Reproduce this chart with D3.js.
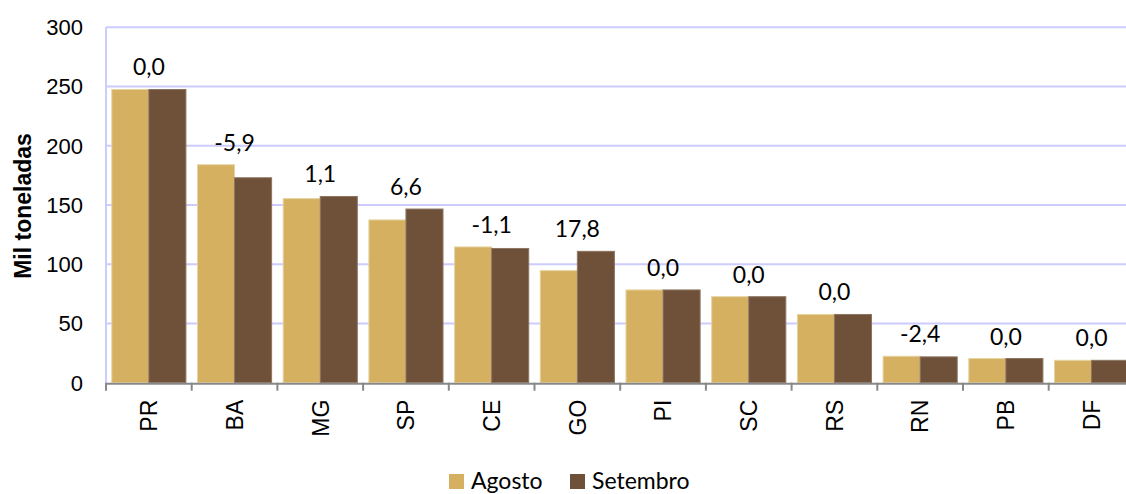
<!DOCTYPE html>
<html>
<head>
<meta charset="utf-8">
<script src="https://cdn.jsdelivr.net/npm/d3@7"></script>
<style>
  body { margin: 0; background: #fff; overflow: hidden; }
  svg { display: block; }
</style>
</head>
<body>
<script>
var estados = ["PR", "BA", "MG", "SP", "CE", "GO", "PI", "SC", "RS", "RN", "PB", "DF"];
var agosto = [247.5, 184, 155.4, 137.4, 114.6, 94.6, 78.3, 72.6, 57.6, 22.3, 20.4, 18.9];
var setembro = [247.5, 173, 157.2, 146.6, 113.3, 110.9, 78.3, 72.6, 57.6, 21.8, 20.4, 18.9];
var variacao = [0.0, -5.9, 1.1, 6.6, -1.1, 17.8, 0.0, 0.0, 0.0, -2.4, 0.0, 0.0];
var series = ["Agosto", "Setembro"];
var yTicks = [0, 50, 100, 150, 200, 250, 300];

var width = 1126;
var height = 494;
var marge = {top: 27.3, left: 106, bottom: 111.3};
var step = 85.7;

var cores = {Agosto: "#D4B060", Setembro: "#6F513A"};
var bordas = {Agosto: "#E6D3A2", Setembro: "#8C7663"};

var svg = d3.select("body")
    .append("svg")
    .attr("width", width)
    .attr("height", height);

var dados = estados.map(function(e, i){
    return {estado: e, Agosto: agosto[i], Setembro: setembro[i], variacao: variacao[i]};
});

var x = d3.scaleBand()
    .domain(estados)
    .range([marge.left, marge.left + step * estados.length])
    .paddingInner(0.135)
    .paddingOuter(0.0675);

var x1 = d3.scaleBand()
    .domain(series)
    .range([0, x.bandwidth()]);

var y = d3.scaleLinear()
    .domain([0, 300])
    .range([height - marge.bottom, marge.top]);

// grade horizontal
svg.append("g")
    .selectAll("line")
    .data(yTicks.filter(function(t){ return t > 0; }))
    .enter()
    .append("line")
    .attr("x1", marge.left)
    .attr("x2", width)
    .attr("y1", function(d){ return y(d); })
    .attr("y2", function(d){ return y(d); })
    .attr("stroke", "#CCCCFF")
    .attr("stroke-width", 2);

// eixo vertical
svg.append("line")
    .attr("x1", marge.left)
    .attr("x2", marge.left)
    .attr("y1", y(300))
    .attr("y2", y(0))
    .attr("stroke", "#CCCCFF")
    .attr("stroke-width", 2);

svg.append("g")
    .selectAll("text")
    .data(yTicks)
    .enter()
    .append("text")
    .attr("x", 83)
    .attr("y", function(d){ return y(d); })
    .attr("dy", "0.36em")
    .attr("text-anchor", "end")
    .style("font-family", "'Liberation Sans', Arial, sans-serif")
    .attr("font-size", 22)
    .attr("fill", "#000")
    .text(function(d){ return d; });

svg.append("text")
    .attr("transform", "translate(31,206) rotate(-90)")
    .attr("text-anchor", "middle")
    .style("font-family", "'Liberation Sans', Arial, sans-serif")
    .attr("font-weight", "bold")
    .attr("font-size", 23)
    .text("Mil toneladas");

// barras
var grupos = svg.append("g")
    .selectAll("g")
    .data(dados)
    .enter()
    .append("g")
    .attr("transform", function(d){ return "translate(" + x(d.estado) + ",0)"; });

grupos.selectAll("rect")
    .data(function(d){
        return series.map(function(s){ return {serie: s, valor: d[s]}; });
    })
    .enter()
    .append("rect")
    .attr("x", function(d){ return x1(d.serie); })
    .attr("y", function(d){ return y(d.valor); })
    .attr("width", x1.bandwidth())
    .attr("height", function(d){ return y(0) - y(d.valor); })
    .attr("fill", function(d){ return cores[d.serie]; })
    .attr("stroke", function(d){ return bordas[d.serie]; })
    .attr("stroke-width", 1);

// rótulos de variação
grupos.append("text")
    .attr("x", x.bandwidth() / 2)
    .attr("y", function(d){ return y(Math.max(d.Agosto, d.Setembro)) - 14; })
    .attr("text-anchor", "middle")
    .style("font-family", "Lato, Carlito, sans-serif")
    .attr("font-size", 23)
    .attr("fill", "#000")
    .text(function(d){ return d.variacao.toFixed(1).replace(".", ","); });

// eixo horizontal
var baseY = y(0);
svg.append("line")
    .attr("x1", marge.left)
    .attr("x2", width)
    .attr("y1", baseY + 1)
    .attr("y2", baseY + 1)
    .attr("stroke", "#888")
    .attr("stroke-width", 2);

svg.append("g")
    .selectAll("line")
    .data(d3.range(estados.length + 1))
    .enter()
    .append("line")
    .attr("x1", function(i){ return marge.left + i * step; })
    .attr("x2", function(i){ return marge.left + i * step; })
    .attr("y1", baseY)
    .attr("y2", baseY + 8)
    .attr("stroke", "#888")
    .attr("stroke-width", 2);

svg.append("g")
    .selectAll("text")
    .data(estados)
    .enter()
    .append("text")
    .attr("transform", function(d){
        return "translate(" + (x(d) + x.bandwidth() / 2) + "," + (baseY + 17) + ") rotate(-90)";
    })
    .attr("text-anchor", "end")
    .attr("dy", "0.36em")
    .style("font-family", "'Liberation Sans', Arial, sans-serif")
    .attr("font-size", 23)
    .attr("fill", "#000")
    .text(function(d){ return d; });

// legenda
var legX = [449, 570];
var legenda = svg.append("g")
    .selectAll("g")
    .data(series)
    .enter()
    .append("g")
    .attr("transform", function(d, i){ return "translate(" + legX[i] + ",474)"; });

legenda.append("rect")
    .attr("width", 15)
    .attr("height", 15)
    .attr("fill", function(d){ return cores[d]; });

legenda.append("text")
    .attr("x", 22)
    .attr("y", 15)
    .style("font-family", "Lato, Carlito, sans-serif")
    .attr("font-size", 23)
    .attr("fill", "#000")
    .text(function(d){ return d; });
</script>
</body>
</html>
